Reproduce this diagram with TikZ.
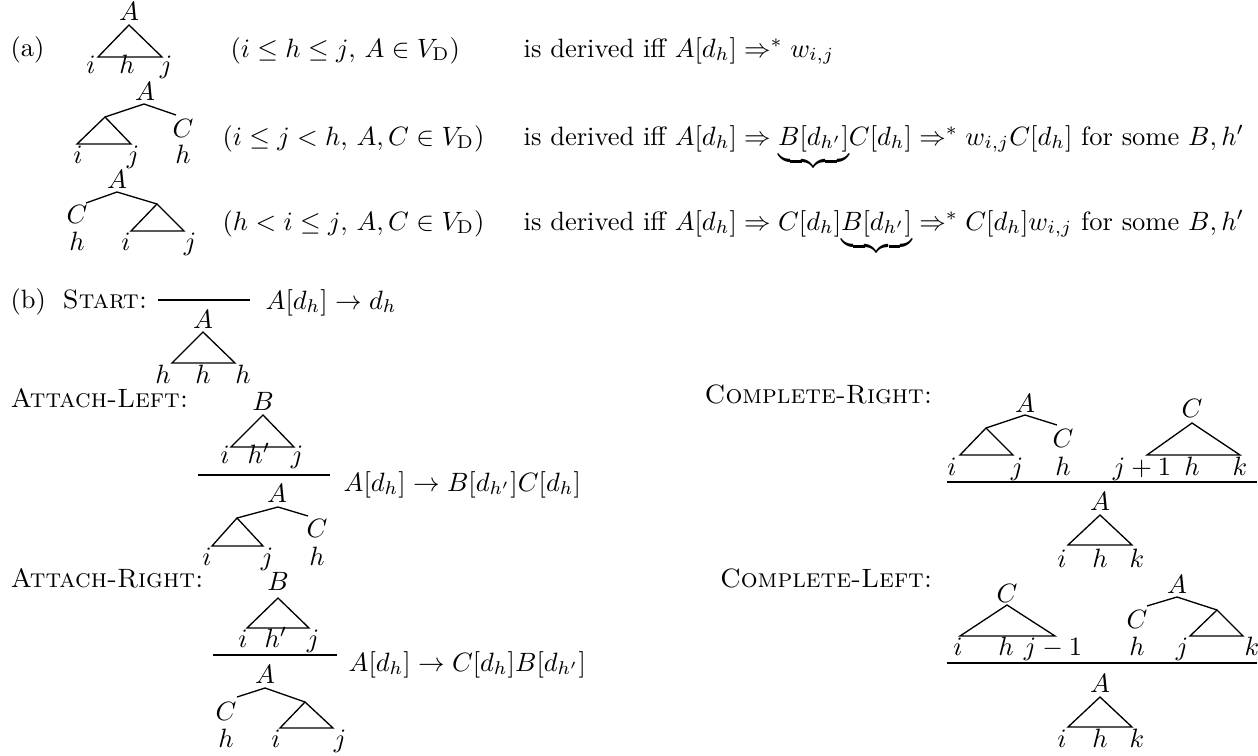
\documentclass[tikz,border=0pt]{standalone}
\usepackage{amsmath}
\begin{document}
\begin{tikzpicture}[x=0.3774pt,y=-0.3774pt,line width=0.5pt,
  lbl/.style={inner sep=0pt,anchor=base},
  txt/.style={inner sep=0pt,anchor=base west},
  rtxt/.style={inner sep=0pt,anchor=base east}]
\useasboundingbox (0,0) rectangle (1258,755);

% ---------------- (a) ----------------
\node[txt] (la) at (10,56) {(a)};
% tree 1
\node[lbl] (t1A) at (129,20) {$A$};
\draw (129,25) -- (98,57) -- (162,57) -- cycle;
\node[lbl] (t1i) at (91,73) {$i$};
\node[lbl] (t1h) at (127,73) {$h$};
\node[lbl] (t1j) at (166,73) {$j$};
% tree 2
\node[lbl] (t2A) at (145,100) {$A$};
\draw (105,117) -- (144,104) -- (176,115);
\node[lbl] (t2C) at (183,137) {$C$};
\draw (105,117) -- (77,144) -- (131,144) -- cycle;
\node[lbl] (t2i) at (78,163) {$i$};
\node[lbl] (t2j) at (133,163) {$j$};
\node[lbl] (t2h) at (183,163) {$h$};
% tree 3
\node[lbl] (t3A) at (117,188) {$A$};
\draw (86,203) -- (117,192) -- (157,204);
\node[lbl] (t3C) at (77,223) {$C$};
\draw (157,204) -- (131,231) -- (184,231) -- cycle;
\node[lbl] (t3h) at (77,250) {$h$};
\node[lbl] (t3i) at (126,250) {$i$};
\node[lbl] (t3j) at (190,250) {$j$};

\node[txt] (c1) at (230,57) {$(i \le h \le j{,}\ A \in V_{\mathrm{D}})$};
\node[txt] (c2) at (222,145) {$(i \le j < h{,}\ A,C \in V_{\mathrm{D}})$};
\node[txt] (c3) at (222,230) {$(h < i \le j{,}\ A,C \in V_{\mathrm{D}})$};

\node[txt] (d1) at (523,57) {is derived iff $A[d_h] \Rightarrow^* w_{i,j}$};
\node[txt] (d2) at (523,145) {is derived iff $A[d_h] \Rightarrow {\underbrace{B[d_{h'}]}}C[d_h] \Rightarrow^* w_{i,j}C[d_h]$ for some $B,h'$};
\node[txt] (d3) at (523,230) {is derived iff $A[d_h] \Rightarrow C[d_h]{\underbrace{B[d_{h'}]}} \Rightarrow^* C[d_h]w_{i,j}$ for some $B,h'$};

% ---------------- (b) ----------------
\node[txt] (lb) at (10,308) {(b)};
\node[txt] (start) at (62,308) {\textsc{Start:}};
\draw (158,300) -- (250,300);
\node[txt] (srule) at (265,309) {$A[d_h] \rightarrow d_h$};
\node[lbl] (sA) at (203,328) {$A$};
\draw (203,332) -- (172,363) -- (235,363) -- cycle;
\node[lbl] (sh1) at (163,383) {$h$};
\node[lbl] (sh2) at (203,383) {$h$};
\node[lbl] (sh3) at (243,383) {$h$};

% Attach-Left
\node[txt] (al) at (10,407) {\textsc{Attach-Left:}};
\node[lbl] (alB) at (263,410) {$B$};
\draw (263,415) -- (231,447) -- (294,447) -- cycle;
\node[lbl] (ali) at (225,463) {$i$};
\node[lbl] (alh) at (259,463) {$h'$};
\node[lbl] (alj) at (297,463) {$j$};
\draw (198,475) -- (330,475);
\node[txt] (alrule) at (343,491) {$A[d_h] \rightarrow B[d_{h'}]C[d_h]$};
\node[lbl] (alA) at (277,502) {$A$};
\draw (237,518) -- (278,507) -- (308,516);
\node[lbl] (alC) at (317,537) {$C$};
\draw (237,518) -- (212,546) -- (263,546) -- cycle;
\node[lbl] (ali2) at (207,565) {$i$};
\node[lbl] (alj2) at (267,565) {$j$};
\node[lbl] (alh2) at (317,565) {$h$};

% Attach-Right
\node[txt] (ar) at (10,587) {\textsc{Attach-Right:}};
\node[lbl] (arB) at (278,590) {$B$};
\draw (278,598) -- (247,628) -- (309,628) -- cycle;
\node[lbl] (ari) at (243,647) {$i$};
\node[lbl] (arh) at (276,647) {$h'$};
\node[lbl] (arj) at (313,647) {$j$};
\draw (213,655) -- (337,655);
\node[txt] (arrule) at (348,671) {$A[d_h] \rightarrow C[d_h]B[d_{h'}]$};
\node[lbl] (arA) at (265,683) {$A$};
\draw (237,697) -- (265,688) -- (305,702);
\node[lbl] (arC) at (226,720) {$C$};
\draw (305,702) -- (280,728) -- (333,728) -- cycle;
\node[lbl] (arh2) at (226,747) {$h$};
\node[lbl] (ari2) at (276,747) {$i$};
\node[lbl] (arj2) at (340,747) {$j$};

% Complete-Right
\node[rtxt] (cr) at (933,403) {\textsc{Complete-Right:}};
\node[lbl] (crA) at (1025,412) {$A$};
\draw (986,428) -- (1025,415) -- (1057,425);
\node[lbl] (crC) at (1063,447) {$C$};
\draw (986,428) -- (960,455) -- (1013,455) -- cycle;
\node[lbl] (cri) at (952,475) {$i$};
\node[lbl] (crj) at (1017,475) {$j$};
\node[lbl] (crh) at (1063,475) {$h$};
\node[lbl] (crC2) at (1192,417) {$C$};
\draw (1192,423) -- (1147,455) -- (1240,455) -- cycle;
\node[lbl] (crj1) at (1142,475) {$j+1$};
\node[lbl] (crh2) at (1192,475) {$h$};
\node[lbl] (crk) at (1240,475) {$k$};
\draw (947,482) -- (1257,482);
\node[lbl] (crA3) at (1100,510) {$A$};
\draw (1100,515) -- (1068,545) -- (1132,545) -- cycle;
\node[lbl] (cri3) at (1062,567) {$i$};
\node[lbl] (crh3) at (1100,567) {$h$};
\node[lbl] (crk3) at (1137,567) {$k$};

% Complete-Left
\node[rtxt] (cl) at (933,587) {\textsc{Complete-Left:}};
\node[lbl] (clC) at (1007,602) {$C$};
\draw (1007,605) -- (960,636) -- (1055,636) -- cycle;
\node[lbl] (cli) at (958,655) {$i$};
\node[lbl] (clh) at (1006,655) {$h$};
\node[lbl] (clj1) at (1053,655) {$j-1$};
\node[lbl] (clA) at (1177,593) {$A$};
\draw (1147,606) -- (1177,597) -- (1217,610);
\node[lbl] (clC2) at (1137,628) {$C$};
\draw (1217,610) -- (1190,636) -- (1243,636) -- cycle;
\node[lbl] (clh2) at (1137,655) {$h$};
\node[lbl] (clj) at (1182,655) {$j$};
\node[lbl] (clk) at (1252,655) {$k$};
\draw (947,663) -- (1257,663);
\node[lbl] (clA3) at (1100,692) {$A$};
\draw (1100,697) -- (1068,727) -- (1132,727) -- cycle;
\node[lbl] (cli3) at (1062,747) {$i$};
\node[lbl] (clh3) at (1100,747) {$h$};
\node[lbl] (clk3) at (1137,747) {$k$};
\end{tikzpicture}
\end{document}
